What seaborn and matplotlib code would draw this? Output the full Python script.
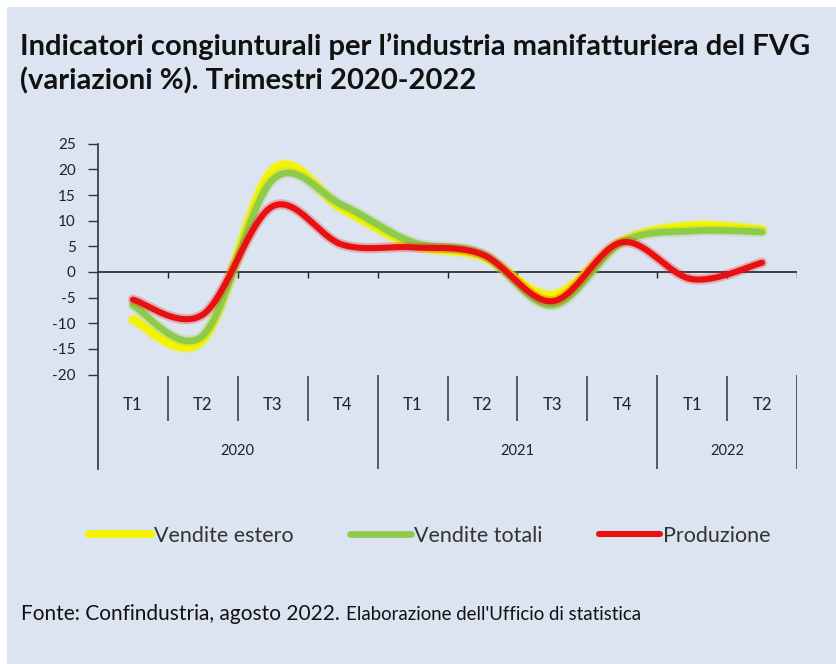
import numpy as np
import pandas as pd
import matplotlib
matplotlib.use("Agg")
import matplotlib.pyplot as plt
import matplotlib.patheffects as pe
from matplotlib.lines import Line2D
from matplotlib.patches import Rectangle
import seaborn as sns

# DATA (variazioni %)
quarters = ["T1", "T2", "T3", "T4", "T1", "T2", "T3", "T4", "T1", "T2"]
years = ["2020", "2021", "2022"]
year_len = [4, 4, 2]
vendite_estero = [-9.3, -13.2, 19.8, 12.3, 5.3, 3.0, -4.5, 6.0, 9.0, 8.2]
vendite_totali = [-6.5, -12.4, 18.0, 13.0, 5.8, 3.5, -6.5, 5.8, 8.0, 7.8]
produzione = [-5.4, -8.3, 12.8, 5.3, 4.8, 3.4, -5.7, 5.8, -1.4, 1.8]
series_names = ["Vendite estero", "Vendite totali", "Produzione"]

BG = "#DBE4F0"
colors = {"Vendite estero": "#F4F400", "Vendite totali": "#8FCB4A", "Produzione": "#E81010"}
widths = {"Vendite estero": 5.8, "Vendite totali": 4.8, "Produzione": 4.4}


def smooth(xs, ys, n=30):
    # Excel-style smoothed line (Catmull-Rom / Bezier through the points)
    xs = np.asarray(xs, float)
    ys = np.asarray(ys, float)
    px = np.r_[xs[0], xs, xs[-1]]
    py = np.r_[ys[0], ys, ys[-1]]
    ox, oy = [], []
    t = np.linspace(0, 1, n)
    for i in range(1, len(px) - 2):
        p0 = np.array([px[i], py[i]])
        p3 = np.array([px[i + 1], py[i + 1]])
        p1 = p0 + (np.array([px[i + 1], py[i + 1]]) - np.array([px[i - 1], py[i - 1]])) / 6
        p2 = p3 - (np.array([px[i + 2], py[i + 2]]) - np.array([px[i], py[i]])) / 6
        b = ((1 - t) ** 3)[:, None] * p0 + (3 * (1 - t) ** 2 * t)[:, None] * p1 \
            + (3 * (1 - t) * t ** 2)[:, None] * p2 + (t ** 3)[:, None] * p3
        ox.extend(b[:, 0])
        oy.extend(b[:, 1])
    return np.array(ox), np.array(oy)


sns.set_style("white")
plt.rcParams["font.family"] = ["Lato", "DejaVu Sans"]

fig = plt.figure(figsize=(8.36, 6.64), dpi=100, facecolor="white")
fig.patches.append(Rectangle((7 / 836, 0), 1, 1 - 7 / 664, transform=fig.transFigure,
                             facecolor=BG, edgecolor="none", zorder=-10))

ax = fig.add_axes([98 / 836, 1 - 469.5 / 664, 699 / 836, 325.8 / 664])
ax.set_facecolor("none")

xpos = np.arange(len(quarters)) + 0.5
data = {"Vendite estero": vendite_estero, "Vendite totali": vendite_totali, "Produzione": produzione}
for name in series_names:
    sx, sy = smooth(xpos, data[name])
    sns.lineplot(x=sx, y=sy, ax=ax, sort=False, estimator=None, color=colors[name],
                 lw=widths[name], solid_capstyle="round", zorder=3,
                 path_effects=[pe.Stroke(linewidth=widths[name] + 3, foreground=colors[name], alpha=0.25),
                               pe.Normal()])

ax.set_xlim(0, len(quarters))
ax.set_ylim(-38.5, 25)
ax.set_yticks(np.arange(-20, 26, 5))
ax.set_yticklabels([str(v) for v in range(-20, 26, 5)], fontsize=11, color="#222222")
ax.tick_params(axis="y", length=7, width=1, color="#333333", left=True, pad=9)
ax.set_xticks([])
for s in ["top", "right", "bottom"]:
    ax.spines[s].set_visible(False)
ax.spines["left"].set_color("#333333")
ax.spines["left"].set_linewidth(1.2)

# zero line with small ticks at the category borders
ax.axhline(0, color="#222222", lw=1.2, zorder=2)
ax.vlines(np.arange(1, len(quarters) + 1), -1.2, 0, color="#222222", lw=1.0, zorder=2)

# multi-level category axis
bounds = np.cumsum(year_len)
quarter_div = [b for b in range(1, len(quarters)) if b not in bounds]
ax.vlines(quarter_div, -20.2, -29.0, color="#333333", lw=1.1)
ax.vlines(bounds, -20.0, -38.5, color="#333333", lw=1.1)
for x, q in zip(xpos, quarters):
    ax.text(x, -26.0, q, ha="center", va="center", fontsize=12, color="#222222")
starts = np.r_[0, bounds[:-1]]
for y, s, n in zip(years, starts, year_len):
    ax.text(s + n / 2, -34.8, y, ha="center", va="center", fontsize=10.5, color="#222222")

# title
fig.text(20 / 836, 1 - 46 / 664, "Indicatori congiunturali per l\u2019industria manifatturiera del FVG",
         fontsize=21, fontweight="bold", color="#111111", va="center", ha="left")
fig.text(20 / 836, 1 - 81 / 664, "(variazioni %). Trimestri 2020-2022",
         fontsize=21, fontweight="bold", color="#111111", va="center", ha="left")

# legend
handles = [Line2D([], [], color=colors[n], lw=widths[n]) for n in series_names]
fig.legend(handles, series_names, loc="center", bbox_to_anchor=(430 / 836, 1 - 536 / 664),
           ncol=3, frameon=False, fontsize=15.5, handlelength=2.85, handletextpad=0.15,
           columnspacing=2.6, labelcolor="#333333")

# source
t1 = fig.text(21 / 836, 1 - 614 / 664, "Fonte: Confindustria, agosto 2022.", fontsize=15,
              color="#111111", va="center", ha="left")
fig.canvas.draw()
bb = t1.get_window_extent()
fig.text((bb.x1 + 6) / 836, 1 - 615 / 664, "Elaborazione dell'Ufficio di statistica", fontsize=13.4,
         family=["Liberation Sans Narrow", "Lato"], color="#111111", va="center", ha="left")

fig.savefig("out.png", dpi=100, facecolor=fig.get_facecolor())
